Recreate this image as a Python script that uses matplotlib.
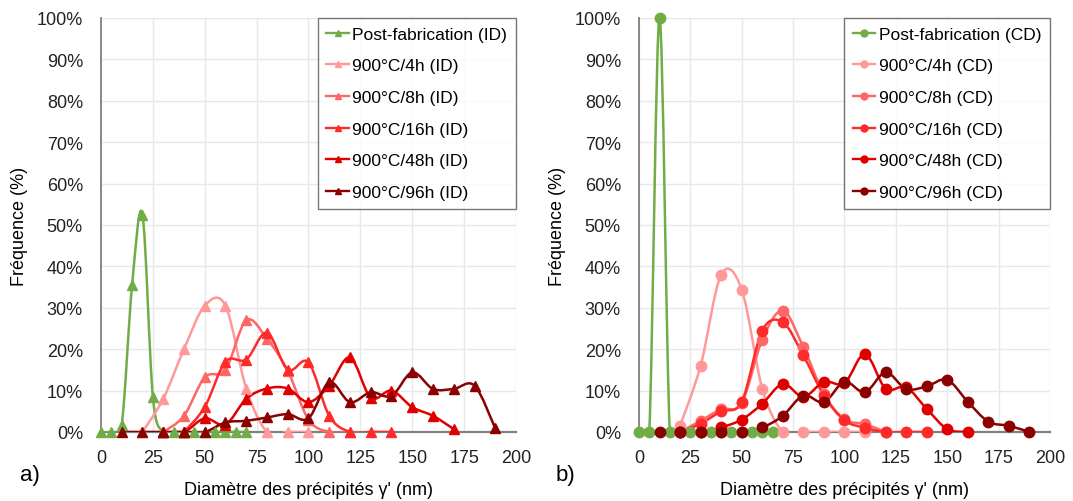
import numpy as np
import matplotlib
matplotlib.use("Agg")
import matplotlib.pyplot as plt
from matplotlib.path import Path
from matplotlib.patches import PathPatch
from matplotlib.lines import Line2D

plt.rcParams['font.family'] = ['Liberation Sans', 'DejaVu Sans']

# ---- data (size in nm, frequency in %) ----
labels = ["Post-fabrication", "900°C/4h", "900°C/8h", "900°C/16h", "900°C/48h", "900°C/96h"]
colors = ["#70AD47", "#FF9999", "#FF6666", "#FF2A2A", "#E00000", "#8B0000"]

# a) ID
id_x_post = [0, 5, 10, 15, 20, 25, 30, 35, 40, 45, 50, 55, 60, 65, 70]
id_y_post = [0, 0, 1.8, 35.5, 52.5, 8.5, 0, 0, 0, 0, 0, 0, 0, 0, 0]
id_x_4h = [20, 30, 40, 50, 60, 70, 80, 90, 100]
id_y_4h = [0, 8, 20, 30.5, 30.5, 10.5, 0, 0, 0]
id_x_8h = [30, 40, 50, 60, 70, 80, 90, 100, 110, 120]
id_y_8h = [0, 3.9, 13.2, 15, 27, 22.5, 14.8, 3, 0, 0]
id_x_16h = [40, 50, 60, 70, 80, 90, 100, 110, 120, 130, 140]
id_y_16h = [0, 6, 17, 17.5, 24, 15, 16.8, 3.9, 0, 0, 0]
id_x_48h = [30, 40, 50, 60, 70, 80, 90, 100, 110, 120, 130, 140, 150, 160, 170]
id_y_48h = [0, 0, 3.3, 1.8, 8, 10.5, 10.5, 7.2, 11.2, 18, 8.3, 10, 6, 3.9, 0.7]
id_x_96h = [10, 20, 30, 40, 50, 60, 70, 80, 90, 100, 110, 120, 130, 140, 150, 160, 170, 180, 190]
id_y_96h = [0, 0, 0, 0, 0, 2.3, 2.7, 3.5, 4.3, 3.3, 12, 7.2, 9.6, 8.7, 14.4, 10.4, 10.4, 11.2, 0.9]

# b) CD
cd_x_post = [0, 5, 10, 15, 20, 25, 30, 35, 40, 45, 50, 55, 60, 65]
cd_y_post = [0, 0, 100, 0, 0, 0, 0, 0, 0, 0, 0, 0, 0, 0]
cd_x_4h = [20, 30, 40, 50, 60, 70, 80, 90, 100, 110]
cd_y_4h = [1.5, 16, 38, 34.4, 10.5, 0, 0, 0, 0, 0]
cd_x_8h = [20, 30, 40, 50, 60, 70, 80, 90, 100, 110, 120]
cd_y_8h = [0, 2.7, 5.5, 7, 22.3, 29.3, 20.5, 9.2, 3.1, 1.9, 0]
cd_x_16h = [20, 30, 40, 50, 60, 70, 80, 90, 100, 110, 120, 130, 140]
cd_y_16h = [0, 2, 5, 7.3, 24.5, 26.5, 18.5, 8.8, 2.8, 1.0, 0, 0, 0]
cd_x_48h = [20, 30, 40, 50, 60, 70, 80, 90, 100, 110, 120, 130, 140, 150, 160]
cd_y_48h = [0, 0, 1.1, 3, 6.8, 11.6, 8.5, 12.1, 11.8, 18.8, 10.5, 10.8, 5.6, 0.7, 0]
cd_x_96h = [10, 20, 30, 40, 50, 60, 70, 80, 90, 100, 110, 120, 130, 140, 150, 160, 170, 180, 190]
cd_y_96h = [0, 0, 0, 0, 0, 1.1, 3.9, 8.8, 7.2, 12.1, 9.6, 14.4, 10.4, 11, 12.6, 7.3, 2.5, 1.5, 0]

id_series = [(id_x_post, id_y_post), (id_x_4h, id_y_4h), (id_x_8h, id_y_8h),
             (id_x_16h, id_y_16h), (id_x_48h, id_y_48h), (id_x_96h, id_y_96h)]
cd_series = [(cd_x_post, cd_y_post), (cd_x_4h, cd_y_4h), (cd_x_8h, cd_y_8h),
             (cd_x_16h, cd_y_16h), (cd_x_48h, cd_y_48h), (cd_x_96h, cd_y_96h)]


def smooth_path(x, y):
    # excel-like smoothed line: cubic bezier through the points
    n = len(x)
    verts = [(x[0], y[0])]
    codes = [Path.MOVETO]
    for i in range(n - 1):
        xa, ya = (x[i - 1], y[i - 1]) if i > 0 else (x[i], y[i])
        xb, yb = (x[i + 2], y[i + 2]) if i + 2 < n else (x[i + 1], y[i + 1])
        c1 = (x[i] + (x[i + 1] - xa) / 6, y[i] + (y[i + 1] - ya) / 6)
        c2 = (x[i + 1] - (xb - x[i]) / 6, y[i + 1] - (yb - y[i]) / 6)
        verts += [c1, c2, (x[i + 1], y[i + 1])]
        codes += [Path.CURVE4] * 3
    return Path(verts, codes)


fig = plt.figure(figsize=(10.73, 5.02), dpi=100)
ax1 = fig.add_axes([0.0941, 0.1375, 0.3868, 0.8247])
ax2 = fig.add_axes([0.5955, 0.1375, 0.3830, 0.8247])

for ax, series, tag, mk, ms in [(ax1, id_series, "ID", "^", 7.5), (ax2, cd_series, "CD", "o", 7.5)]:
    handles = []
    for (x, y), lab, c in zip(series, labels, colors):
        ax.add_patch(PathPatch(smooth_path(x, y), fill=False, edgecolor=c, lw=1.8, zorder=3))
        ax.plot(x, y, linestyle="none", marker=mk, ms=ms, color=c, clip_on=False, zorder=4)
        handles.append(Line2D([], [], color=c, lw=1.7, marker=mk, ms=5))
    ax.set_xlim(0, 200)
    ax.set_ylim(0, 100)
    ax.set_xticks(np.arange(0, 201, 25))
    ax.set_yticks(np.arange(0, 101, 10))
    ax.set_yticklabels([f"{v}%" for v in range(0, 101, 10)])
    ax.grid(True, color="#E8E8E8", lw=1)
    ax.set_axisbelow(True)
    for s in ["top", "right"]:
        ax.spines[s].set_visible(False)
    ax.spines["left"].set_color("#808080")
    ax.spines["bottom"].set_color("#808080")
    ax.spines["left"].set_linewidth(1.3)
    ax.spines["bottom"].set_linewidth(1.6)
    ax.tick_params(axis="y", length=0, labelsize=13, labelcolor="#222222", pad=13)
    ax.tick_params(axis="x", length=0, labelsize=13, labelcolor="#222222", pad=12)
    ax.set_xlabel("Diamètre des précipités γ' (nm)", fontsize=13, labelpad=11)
    ax.set_ylabel("Fréquence (%)", fontsize=13, labelpad=6)
    leg = ax.legend(handles, [f"{l} ({tag})" for l in labels], loc="upper right",
                    fontsize=12.5, frameon=True, fancybox=False, borderaxespad=0,
                    handlelength=1.3, handletextpad=0.2, labelspacing=0.95,
                    borderpad=0.5)
    leg.get_frame().set_edgecolor("#555555")
    leg.get_frame().set_linewidth(1.0)

fig.text(20 / 1073, 1 - 475 / 502, "a)", fontsize=16, va="center")
fig.text(556 / 1073, 1 - 475 / 502, "b)", fontsize=16, va="center")

fig.savefig("out.png", dpi=100)
